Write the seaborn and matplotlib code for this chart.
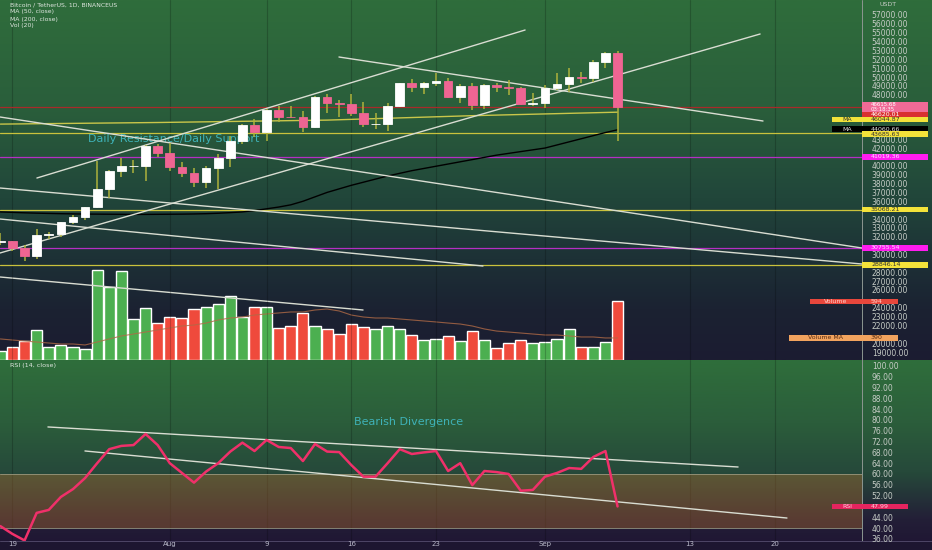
import matplotlib

matplotlib.use("Agg")
import matplotlib.pyplot as plt
import numpy as np
import pandas as pd
import seaborn as sns
from matplotlib.colors import LinearSegmentedColormap
from matplotlib.patches import Rectangle
from matplotlib.ticker import FuncFormatter

# BTC/USDT daily candles, 18 Jul .. 7 Sep 2021 (day 0 .. 51)
opens = [31383, 31520, 30770, 29790, 32144, 32288, 33634, 34262, 35350, 37337,
         39406, 39995, 40017, 42206, 41461, 39845, 39147, 38207, 39723, 40862,
         42836, 44614, 43792, 46285, 45543, 45510, 44400, 47800, 47068, 46974,
         45901, 44695, 44705, 46760, 49339, 48905, 49321, 49546, 47706, 48960,
         46843, 49069, 48896, 48767, 46970, 47100, 48810, 49246, 49999, 49915,
         51756, 52663]
highs = [32435, 31550, 31032, 32858, 32591, 33650, 34500, 35398, 40550, 39542,
         40900, 40640, 42316, 42448, 42599, 40445, 39780, 39969, 41350, 43392,
         44700, 45310, 46454, 46700, 46743, 46218, 47886, 48144, 47372, 48053,
         47160, 46000, 47033, 49382, 49757, 49500, 50500, 49860, 49277, 49368,
         49185, 49309, 49627, 48888, 48246, 49150, 50450, 51000, 50559, 51900,
         52780, 52920]
lows = [31108, 30407, 29278, 29482, 31708, 31924, 33401, 33851, 35205, 36383,
        38772, 39200, 38313, 41000, 39422, 38690, 37642, 37508, 37332, 39853,
        42446, 43261, 42779, 44980, 45341, 43770, 44217, 45971, 45500, 45660,
        44376, 44203, 43927, 46622, 48273, 48050, 49028, 47600, 47122, 46315,
        46360, 48370, 48005, 46853, 46700, 46512, 48584, 48316, 49370, 49450,
        50969, 42830]
closes = [31520, 30770, 29790, 32144, 32288, 33634, 34262, 35350, 37337, 39406,
          39995, 40017, 42206, 41461, 39845, 39147, 38207, 39723, 40862, 42836,
          44614, 43792, 46285, 45543, 45510, 44400, 47800, 47068, 46974, 45901,
          44695, 44705, 46760, 49339, 48905, 49321, 49546, 47706, 48960, 46843,
          49069, 48896, 48767, 46970, 47100, 48810, 49246, 49999, 49915, 51756,
          52663, 46615.68]
volumes = [94, 135, 189, 304, 129, 152, 129, 111, 911, 736,
           904, 412, 523, 371, 432, 428, 513, 539, 567, 648,
           438, 539, 539, 321, 344, 479, 344, 314, 263, 361,
           337, 314, 344, 317, 253, 202, 209, 243, 192, 297,
           202, 118, 172, 199, 172, 185, 209, 314, 129, 135,
           185, 594]
volume_ma = [213, 202, 192, 182, 172, 162, 162, 152, 182, 213,
             243, 263, 283, 304, 324, 344, 354, 374, 405, 425,
             435, 455, 466, 476, 486, 486, 506, 516, 496, 455,
             435, 425, 425, 415, 405, 395, 385, 374, 364, 344,
             314, 293, 283, 273, 263, 253, 253, 243, 233, 233,
             223, 223]
ma50 = [34800, 34750, 34700, 34660, 34630, 34600, 34580, 34560, 34550, 34540,
        34530, 34520, 34520, 34530, 34540, 34550, 34570, 34600, 34650, 34720,
        34800, 34950, 35150, 35350, 35600, 36000, 36500, 37000, 37400, 37800,
        38150, 38500, 38850, 39150, 39450, 39700, 39950, 40200, 40450, 40700,
        40950, 41200, 41400, 41600, 41800, 42000, 42350, 42700, 43050, 43400,
        43750, 44060.66]
ma200_days = [0, 13, 27, 39, 51]
ma200 = [44700, 44880, 45150, 45650, 46044.87]
rsi = [40.7, 37.8, 35.4, 45.6, 46.7, 51.5, 54.4, 58.5, 64.0, 69.2,
       70.4, 70.7, 74.8, 70.7, 64.0, 60.4, 56.8, 60.9, 64.0, 68.3,
       71.6, 68.5, 72.6, 70.0, 69.6, 64.8, 71.1, 68.3, 68.1, 63.3,
       59.0, 59.0, 64.0, 69.2, 67.4, 68.0, 68.5, 61.1, 64.0, 55.9,
       61.1, 60.7, 60.0, 53.8, 54.1, 59.0, 60.4, 62.2, 61.9, 66.3,
       68.5, 47.99]

date_ticks = [1, 14, 22, 29, 36, 45, 57, 64]
date_labels = ["19", "Aug", "9", "16", "23", "Sep", "13", "20"]

# horizontal levels drawn on the chart
level_prices = [46620.01, 43685.63, 41019.36, 35068.21, 30755.54, 28846.14]
level_kinds = ["red", "yellow", "magenta", "yellow", "magenta", "yellow"]

# trend lines: (start day, end day), (start value, end value)
price_trend_days = [(3.02, 43.36), (-0.03, 62.78), (27.98, 63.02),
                    (-0.03, 71.2), (-0.03, 71.2), (-0.03, 39.88)]
price_trend_values = [(38623, 55309), (30169, 54858), (52265, 45050),
                      (45501, 30732), (37496, 28928), (34001, 28703)]
volume_trend_days = (-0.03, 29.97)
volume_trend_values = (840, 506)
rsi_trend_days = [(3.93, 60.96), (6.99, 65.0)]
rsi_trend_values = [(77.41, 62.59), (68.52, 43.70)]

W, H = 932, 550
UP_BODY, DOWN_BODY, WICK = "#ffffff", "#ef6593", "#aeb23c"
VOL_UP, VOL_DOWN = "#4caf50", "#ef4a3c"
TREND = "#d9ddd2"
LEVEL_COLORS = {"red": "#a82a2a", "yellow": "#c9c23c", "magenta": "#b52fc4"}
AXIS_TEXT = "#c6ccc6"

sns.set_theme(style="dark")
plt.rcParams["font.family"] = ["DejaVu Sans"]

candles = pd.DataFrame({"day": np.arange(len(closes)), "open": opens, "high": highs,
                        "low": lows, "close": closes, "volume": volumes,
                        "volume_ma": volume_ma, "ma50": ma50, "rsi": rsi})
candles["side"] = np.where(candles["close"] >= candles["open"], "up", "down")

fig = plt.figure(figsize=(W / 100, H / 100), dpi=100)

# pane backgrounds (gradients like the trading view theme)
bg = fig.add_axes([0, 0, 1, 1], zorder=0)
top_cmap = LinearSegmentedColormap.from_list(
    "top", [(0, "#2f6d3b"), (0.3, "#2a5e3b"), (0.55, "#21463a"), (0.72, "#1d3136"),
            (0.86, "#1b2232"), (1, "#1c1c31")])
rsi_cmap = LinearSegmentedColormap.from_list(
    "rsi", [(0, "#2f6e3b"), (0.35, "#2b5d3b"), (0.62, "#26493a"), (0.88, "#231f37"),
            (1, "#201734")])
ramp = np.linspace(0, 1, 256).reshape(-1, 1)
bg.imshow(ramp, cmap=top_cmap, extent=(0, W, 360, 0), aspect="auto")
bg.imshow(ramp, cmap=rsi_cmap, extent=(0, W, 541, 360), aspect="auto")
bg.add_patch(Rectangle((0, 541), W, 9, color="#1d1630"))
bg.plot([862, 862], [0, 541], color="#8c9690", lw=0.7)
bg.plot([0, W], [541, 541], color="#4e4666", lw=0.7)
bg.set_xlim(0, W)
bg.set_ylim(H, 0)
bg.axis("off")

price_rect = [0, 190 / H, 862 / W, 360 / H]
ax_vol = fig.add_axes(price_rect, zorder=1)
ax = fig.add_axes(price_rect, zorder=2, sharex=ax_vol)
ax_rsi = fig.add_axes([0, 9 / H, 862 / W, 181 / H], zorder=2, sharex=ax_vol)
for a in (ax_vol, ax, ax_rsi):
    a.set_facecolor("none")
    for spine in a.spines.values():
        spine.set_visible(False)

# volume overlay
sns.barplot(data=candles, x="day", y="volume", hue="side",
            palette={"up": VOL_UP, "down": VOL_DOWN}, native_scale=True,
            dodge=False, width=0.92, saturation=1, errorbar=None, legend=False,
            ax=ax_vol, zorder=2)
sns.lineplot(data=candles, x="day", y="volume_ma", color="#b06a46", lw=0.8,
             alpha=0.8, ax=ax_vol, zorder=3)
ax_vol.plot(volume_trend_days, volume_trend_values, color=TREND, lw=1, zorder=4)
ax_vol.set_ylim(0, 3643)
ax_vol.set_yticks([])
ax_vol.set_xlabel("")
ax_vol.set_ylabel("")
ax_vol.grid(False)

# price pane
for price, kind in zip(level_prices, level_kinds):
    ax.axhline(price, color=LEVEL_COLORS[kind], lw=0.9, zorder=2)
sns.lineplot(x=ma200_days, y=ma200, color="#c9c64a", lw=1.0, ax=ax, zorder=2)
sns.lineplot(data=candles, x="day", y="ma50", color="#000000", lw=1.0, ax=ax, zorder=2)
for days_pair, vals_pair in zip(price_trend_days, price_trend_values):
    ax.plot(days_pair, vals_pair, color=TREND, lw=1.0, zorder=3)
ax.text(7.24, 43020, "Daily Resistance/Daily Support", color="#3fb2b8", fontsize=8,
        va="center", ha="left", zorder=2.5)
body_low = np.minimum(candles["open"], candles["close"])
body_h = np.maximum(np.abs(candles["close"] - candles["open"]), 30)
body_colors = [UP_BODY if s == "up" else DOWN_BODY for s in candles["side"]]
ax.vlines(candles["day"], candles["low"], candles["high"], color=WICK, lw=1.1, zorder=4)
ax.bar(candles["day"], body_h, bottom=body_low, width=0.72, color=body_colors,
       edgecolor=body_colors, lw=0.6, zorder=5)
ax.set_ylim(18106, 58691)
ax.yaxis.tick_right()
ax.set_yticks(np.arange(19000, 58001, 1000))
ax.tick_params(axis="y", length=0, pad=7, labelsize=5.5, labelcolor=AXIS_TEXT)
ax.set_xlabel("")
ax.set_ylabel("")

# RSI pane
ax_rsi.axhspan(40, 60, color="#c8782a", alpha=0.33, lw=0, zorder=1)
for lvl in (40, 60):
    ax_rsi.axhline(lvl, color="#9c9c84", lw=0.7, alpha=0.8, zorder=1)
for days_pair, vals_pair in zip(rsi_trend_days, rsi_trend_values):
    ax_rsi.plot(days_pair, vals_pair, color=TREND, lw=1.0, zorder=2)
sns.lineplot(data=candles, x="day", y="rsi", color="#f0306a", lw=1.8, ax=ax_rsi, zorder=3)
ax_rsi.text(29.22, 79.26, "Bearish Divergence", color="#3fb2b8", fontsize=8,
            va="center", ha="left")
ax_rsi.set_ylim(35.19, 102.2)
ax_rsi.yaxis.tick_right()
ax_rsi.set_yticks(np.arange(36, 101, 4))
ax_rsi.tick_params(axis="y", length=0, pad=7, labelsize=5.5, labelcolor=AXIS_TEXT)
ax_rsi.set_xlabel("")
ax_rsi.set_ylabel("")

ax_rsi.set_xlim(-0.03, 71.2)
ax_rsi.set_xticks(date_ticks)
ax_rsi.set_xticklabels(date_labels)
ax_rsi.tick_params(axis="x", length=0, pad=0.3, labelsize=5, labelcolor="#b8b8c8")
ax.tick_params(axis="x", labelbottom=False, length=0)
ax_vol.tick_params(axis="x", labelbottom=False, length=0)
for a in (ax, ax_rsi):
    a.grid(False)
    a.grid(True, axis="x", color="#000000", alpha=0.2, lw=0.8)

# overlay for scale tags and legend text (pixel coordinates)
ov = fig.add_axes([0, 0, 1, 1], zorder=6)
ov.set_xlim(0, W)
ov.set_ylim(H, 0)
ov.axis("off")

TAG_FONT, TAG_H = 4.5, 5.6


def px_y(axis, value):
    return H - axis.transData.transform((0, value))[1]


def value_tag(y, text, face, ink, x1=928):
    ov.add_patch(Rectangle((862, y - TAG_H / 2), x1 - 862, TAG_H, facecolor=face,
                           edgecolor="none"))
    ov.text(871, y, text, color=ink, fontsize=TAG_FONT, va="center", ha="left")


def name_tag(y, text, face, ink, x0):
    ov.add_patch(Rectangle((x0, y - TAG_H / 2), 862 - x0, TAG_H, facecolor=face,
                           edgecolor="none"))
    ov.text((x0 + 862) / 2, y, text, color=ink, fontsize=TAG_FONT, va="center", ha="center")


price_tags = []
y_close = px_y(ax, closes[-1])
ov.add_patch(Rectangle((862, y_close - 4.8), 66, 9.6, facecolor="#f06a96", edgecolor="none"))
ov.text(871, y_close - 2.3, f"{closes[-1]:.2f}", color="#ffffff", fontsize=3.9, va="center")
ov.text(871, y_close + 2.3, "03:18:35", color="#ffffff", fontsize=3.9, va="center")
price_tags.append(y_close)

y_red = px_y(ax, level_prices[0]) + 7.5
value_tag(y_red, f"{level_prices[0]:.2f}", "#d93030", "#ffffff")
y_ma200 = px_y(ax, ma200[-1]) + 7.2
name_tag(y_ma200, "MA", "#f3e23a", "#333333", 832)
value_tag(y_ma200, f"{ma200[-1]:.2f}", "#f3e23a", "#333333")
y_ma50 = px_y(ax, ma50[-1]) - 0.5
name_tag(y_ma50, "MA", "#000000", "#dddddd", 832)
value_tag(y_ma50, f"{ma50[-1]:.2f}", "#000000", "#dddddd")
price_tags += [y_red, y_ma200, y_ma50]
level_faces = {"yellow": ("#f3e23a", "#333333"), "magenta": ("#ff1cf0", "#ffe0ff")}
for price, kind in zip(level_prices[1:], level_kinds[1:]):
    y_lvl = px_y(ax, price) + (1.0 if price == level_prices[1] else 0)
    face, ink = level_faces[kind]
    value_tag(y_lvl, f"{price:.2f}", face, ink)
    price_tags.append(y_lvl)

y_vol = px_y(ax_vol, volumes[-1])
name_tag(y_vol, "Volume", "#e8473c", "#ffd0c8", 810)
value_tag(y_vol, f"{volumes[-1]}", "#e8473c", "#ffd0c8", x1=898)
y_vma = px_y(ax_vol, volume_ma[-1])
name_tag(y_vma, "Volume MA", "#f2a35e", "#5a2c10", 789)
value_tag(y_vma, "390", "#f2a35e", "#5a2c10", x1=898)
price_tags += [y_vol, y_vma, 4.0]
y_rsi = px_y(ax_rsi, rsi[-1])
name_tag(y_rsi, "RSI", "#e5245f", "#ffd0dd", 832)
value_tag(y_rsi, f"{rsi[-1]:.2f}", "#e5245f", "#ffd0dd", x1=908)


def scale_formatter(axis, tag_ys, gap=4.6):
    # axis labels hidden behind a tag are left blank, as on the trading view scale
    def fmt(value, pos):
        if any(abs(px_y(axis, value) - t) < gap for t in tag_ys):
            return ""
        return f"{value:.2f}"
    return FuncFormatter(fmt)


ax.yaxis.set_major_formatter(scale_formatter(ax, price_tags))
ax_rsi.yaxis.set_major_formatter(scale_formatter(ax_rsi, [y_rsi]))

ov.text(880, 4, "USDT", color=AXIS_TEXT, fontsize=4.5, va="center", ha="left")
legend_lines = ["Bitcoin / TetherUS, 1D, BINANCEUS", "MA (50, close)", "MA (200, close)", "Vol (20)"]
for i, line in enumerate(legend_lines):
    ov.text(10, 5 + 7 * i, line, color="#dfe6df", fontsize=4.4, va="center", ha="left")
ov.text(10, 366, "RSI (14, close)", color="#dfe6df", fontsize=4.6, va="center", ha="left")

fig.savefig("out.png", dpi=100)
plt.close(fig)
